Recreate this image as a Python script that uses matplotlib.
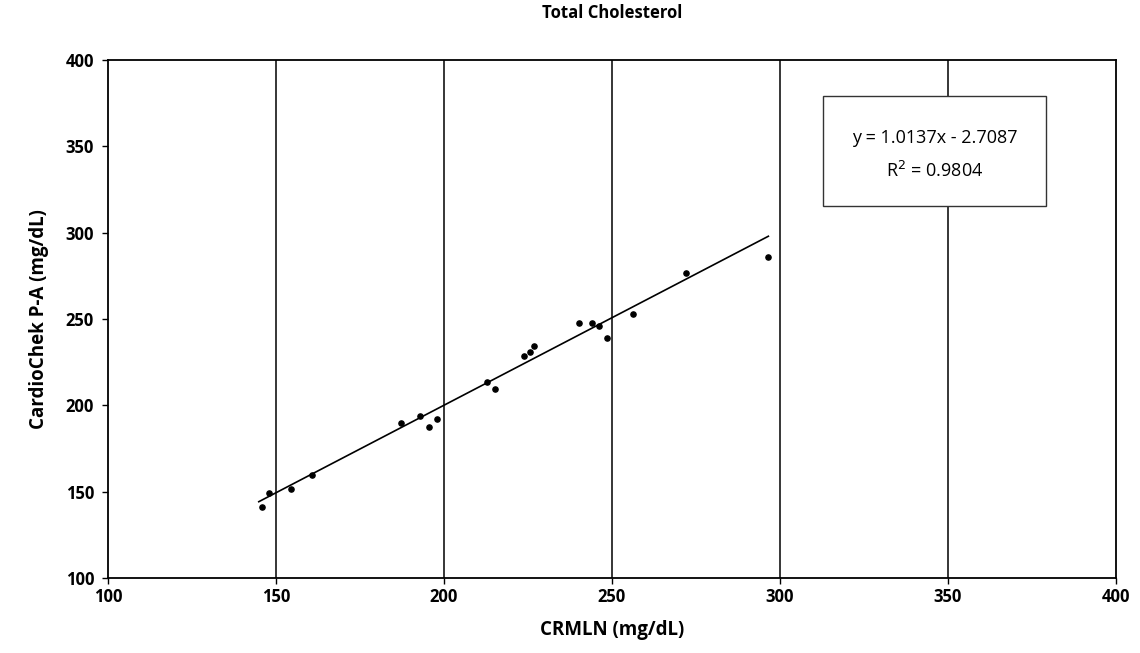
import numpy as np
from matplotlib import pyplot as plt
from matplotlib.patches import Rectangle

# valeurs (mg/dL)
crmln = [145.9, 148.0, 154.4, 160.8, 187.2, 192.9, 195.7, 198.0, 212.9, 215.3,
         224.0, 225.7, 226.9, 240.1, 244.1, 246.1, 248.5, 256.4, 272.0, 296.6]
cardiochek = [141.1, 149.1, 151.5, 159.9, 189.5, 193.6, 187.6, 191.9, 213.8, 209.4,
              228.5, 230.9, 234.3, 247.5, 247.7, 246.1, 239.0, 253.0, 276.5, 286.2]

pente = 1.0137
ordonnee = -2.7087
r2 = 0.9804

x_ticks = [100, 150, 200, 250, 300, 350, 400]
y_ticks = [100, 150, 200, 250, 300, 350, 400]

plt.rcParams['font.family'] = ['Open Sans', 'DejaVu Sans']

fig = plt.figure(figsize=(11.4, 6.53), dpi=100)
ax = fig.add_axes([0.0947, 0.1149, 0.884, 0.7931])

# grille verticale seulement
for xv in x_ticks[1:-1]:
    ax.axvline(xv, color='black', lw=1.1, zorder=1)

ax.scatter(crmln, cardiochek, s=14, color='black', zorder=3)

xs = np.array([min(crmln) - 1, max(crmln)])
ax.plot(xs, pente * xs + ordonnee, color='black', lw=1.2, zorder=2)

ax.set_xlim(100, 400)
ax.set_ylim(100, 400)
ax.set_xticks(x_ticks)
ax.set_yticks(y_ticks)
for lab in ax.get_xticklabels() + ax.get_yticklabels():
    lab.set_fontweight('bold')
    lab.set_fontsize(12)
ax.tick_params(axis='both', direction='out', length=4, width=1, pad=3)
ax.tick_params(axis='y', pad=6)
for sp in ax.spines.values():
    sp.set_linewidth(1.3)
    sp.set_color('black')

ax.set_title("Total Cholesterol", fontsize=12, fontweight='bold', pad=30)
ax.set_xlabel("CRMLN (mg/dL)", fontsize=13.5, fontweight='bold', labelpad=10)
ax.set_ylabel("CardioChek P-A (mg/dL)", fontsize=13.5, fontweight='bold', labelpad=12)

# encadré de l'équation
ax.add_patch(Rectangle((0.71, 0.719), 0.221, 0.212, transform=ax.transAxes,
                       facecolor='white', edgecolor='#333333', lw=1.0, zorder=4))
ax.text(0.8205, 0.85, f"y = {pente}x - {abs(ordonnee)}", transform=ax.transAxes,
        ha='center', va='center', fontsize=13, zorder=5)
ax.text(0.8205, 0.785, f"R$^2$ = {r2}", transform=ax.transAxes,
        ha='center', va='center', fontsize=13, zorder=5)

fig.savefig("out.png", dpi=100)
